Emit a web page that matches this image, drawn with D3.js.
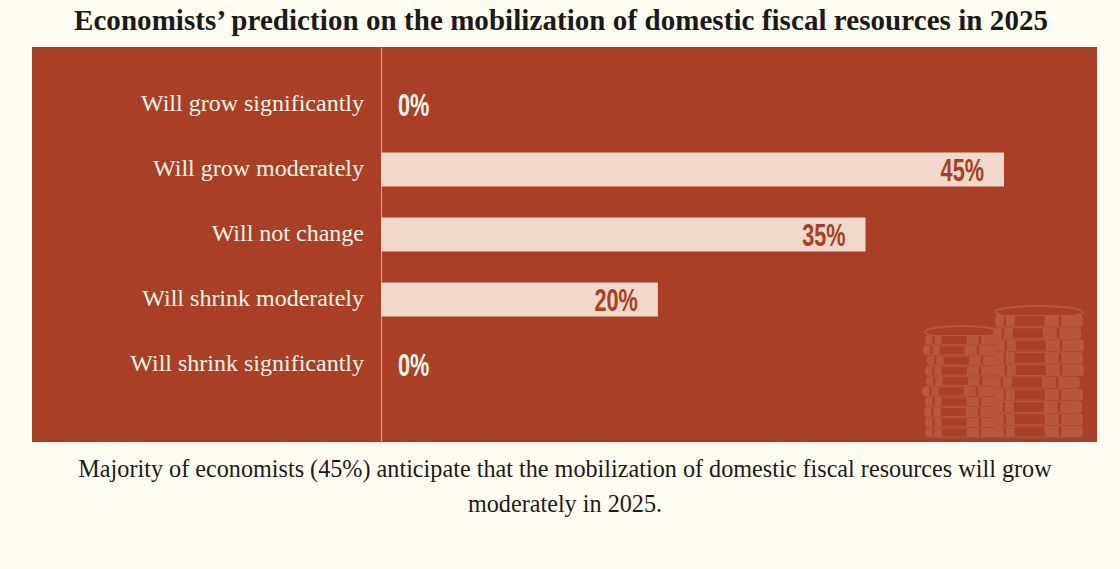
<!DOCTYPE html>
<html>
<head>
<meta charset="utf-8">
<script src="https://cdn.jsdelivr.net/npm/d3@7"></script>
<style>
  html, body { margin: 0; padding: 0; background: #fffdf2; }
  svg { display: block; }
  .serif { font-family: "Liberation Serif", serif; }
  .pct { font-family: "Liberation Sans", Roboto, sans-serif; font-weight: 700; }
</style>
</head>
<body>
<svg id="chart" width="1120" height="569"></svg>
<script>
var categories = ['Will grow significantly', 'Will grow moderately', 'Will not change', 'Will shrink moderately', 'Will shrink significantly'];
var shares = [0, 45, 35, 20, 0];
var titleText = 'Economists\u2019 prediction on the mobilization of domestic fiscal resources in 2025';
var noteLines = ['Majority of economists (45%) anticipate that the mobilization of domestic fiscal resources will grow', 'moderately in 2025.'];

var red = '#a93f24';
var pale = '#f0d9ca';
var coin = '#b9573d';

var svg = d3.select('#chart');

svg.append('rect').attr('width', 1120).attr('height', 569).attr('fill', '#fffdf2');
svg.append('rect').attr('x', 32).attr('y', 47).attr('width', 1065).attr('height', 395).attr('fill', red);

svg.append('text').attr('class', 'serif')
  .attr('x', 561).attr('y', 30)
  .attr('text-anchor', 'middle')
  .attr('font-size', 29).attr('font-weight', 700)
  .attr('fill', '#1a1a1a')
  .attr('textLength', 974).attr('lengthAdjust', 'spacing')
  .text(titleText);

// scales
var x = d3.scaleLinear().domain([0, 45]).range([381, 1004]);
var y = d3.scalePoint().domain(categories).range([104, 364]);
var barH = 34;

// coin stacks, left one sits behind the right one
function drawStack(cx, rx, top, n, step, offsets) {
  var g = svg.append('g');
  g.append('ellipse').attr('cx', cx + offsets[0]).attr('cy', top - 3).attr('rx', rx).attr('ry', 6)
    .attr('fill', red).attr('stroke', coin).attr('stroke-width', 2);
  for (var i = 0; i < n; i++) {
    var cy = top + i * step;
    var dx = offsets[i % offsets.length];
    g.append('rect').attr('x', cx - rx + dx).attr('y', cy).attr('width', rx * 2).attr('height', step - 0.5)
      .attr('rx', 4).attr('fill', coin);
    g.append('rect').attr('x', cx - rx * 0.55 + dx).attr('y', cy + 1).attr('width', rx * 0.68).attr('height', step - 2.5)
      .attr('fill', red);
    g.append('rect').attr('x', cx + rx * 0.45 + dx).attr('y', cy + 1).attr('width', 2.5).attr('height', step - 2.5)
      .attr('fill', red);
    g.append('rect').attr('x', cx - rx * 0.8 + dx).attr('y', cy + 1).attr('width', 2).attr('height', step - 2.5)
      .attr('fill', red);
  }
}
drawStack(962, 37, 335, 10, 10.3, [0, -2, 2, 0, 1, -3, 0, -1, 0, 0]);
drawStack(1039, 44, 315, 10, 12.3, [0, -2, 1, 0, 1, -3, 0, -1, 0, 0]);

var axisLine = d3.axisLeft(d3.scaleLinear().range([47, 442])).ticks(0).tickSize(0).tickFormat('');
svg.append('g').attr('transform', 'translate(381,0)').call(axisLine)
  .select('.domain').attr('stroke', '#d9a18e').attr('stroke-width', 1);

svg.selectAll('.cat').data(categories).enter().append('text')
  .attr('class', 'serif cat')
  .attr('x', 364)
  .attr('y', function(d) { return y(d) + 7; })
  .attr('text-anchor', 'end')
  .attr('font-size', 24)
  .attr('fill', '#fff6ec')
  .text(function(d) { return d; });

svg.selectAll('.bar').data(shares).enter().append('rect')
  .attr('class', 'bar')
  .attr('x', x(0))
  .attr('y', function(d, i) { return y(categories[i]) - barH / 2 + 0.5; })
  .attr('width', function(d) { return x(d) - x(0); })
  .attr('height', barH)
  .attr('fill', pale);

// narrow the bold sans so it reads like the condensed labels
svg.selectAll('.pct').data(shares).enter().append('text')
  .attr('class', 'pct')
  .attr('transform', function(d, i) {
    var tx = d === 0 ? 398 : x(d) - 20;
    return 'translate(' + tx + ',' + (y(categories[i]) + 12) + ') scale(0.7,1)';
  })
  .attr('text-anchor', function(d) { return d === 0 ? 'start' : 'end'; })
  .attr('font-size', 31)
  .attr('fill', function(d) { return d === 0 ? '#fff6ec' : red; })
  .text(function(d) { return d + '%'; });

svg.selectAll('.note').data(noteLines).enter().append('text')
  .attr('class', 'serif note')
  .attr('x', 565)
  .attr('y', function(d, i) { return 477 + i * 35; })
  .attr('text-anchor', 'middle')
  .attr('font-size', 24.2)
  .attr('fill', '#1a1a1a')
  .text(function(d) { return d; });
</script>
</body>
</html>
